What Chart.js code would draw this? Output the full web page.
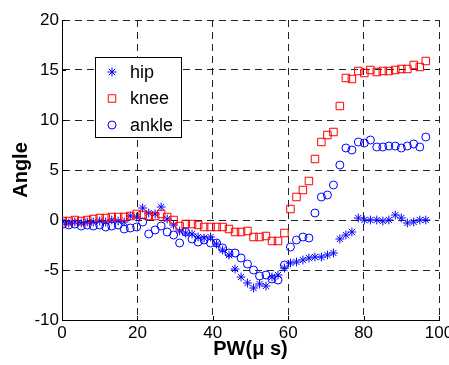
<!DOCTYPE html>
<html>
<head>
<meta charset="utf-8">
<script src="https://cdn.jsdelivr.net/npm/chart.js@4.4.1/dist/chart.umd.min.js"></script>
<style>
  html, body { margin: 0; padding: 0; background: #fff; }
  #wrap { width: 449px; height: 365px; }
</style>
</head>
<body>
<div id="wrap"><canvas id="angleChart" width="449" height="365"></canvas></div>
<script>
// pulse width (us) for each recorded step
const pw = [0.2, 1.8, 3.4, 5.1, 6.7, 8.3, 10.0, 11.6, 13.2, 14.9,
            16.5, 18.1, 19.8, 21.4, 23.0, 24.7, 26.3, 27.9, 29.6, 31.2,
            32.8, 34.5, 36.1, 37.7, 39.4, 41.0, 42.6, 44.3, 45.9, 47.5,
            49.2, 50.8, 52.4, 54.1, 55.7, 57.3, 59.0, 60.6, 62.2, 63.9,
            65.5, 67.1, 68.8, 70.4, 72.0, 73.7, 75.3, 76.9, 78.6, 80.2,
            81.8, 83.5, 85.1, 86.7, 88.4, 90.0, 91.6, 93.3, 94.9, 96.5];

// joint angles (deg)
const hip = [-0.2, -0.3, -0.2, -0.3, -0.2, -0.2, -0.1, -0.2, 0.0, -0.1,
             -0.2, 0.4, 0.3, 1.2, 0.7, 0.6, 1.3, 0.1, -0.5, -1.1,
             -1.3, -1.4, -1.7, -1.8, -1.7, -2.4, -3.0, -3.5, -4.9, -5.7,
             -6.3, -6.8, -6.4, -6.6, -5.7, -5.5, -4.8, -4.3, -4.2, -4.0,
             -3.8, -3.7, -3.7, -3.5, -3.3, -1.9, -1.5, -1.2, 0.2, 0.0,
             0.0, 0.0, -0.1, 0.0, 0.5, 0.2, -0.3, -0.2, 0.0, 0.0];
const knee = [-0.1, -0.1, 0.0, -0.1, 0.0, 0.1, 0.2, 0.2, 0.3, 0.3,
              0.3, 0.4, 0.6, 0.5, 0.4, 0.4, 0.6, 0.3, 0.0, -0.6,
              -0.4, -0.4, -0.5, -0.7, -0.7, -0.7, -0.7, -0.9, -1.2, -1.2,
              -1.1, -1.7, -1.7, -1.6, -2.1, -2.1, -1.3, 1.1, 2.3, 3.0,
              3.9, 6.1, 7.8, 8.5, 8.8, 11.4, 14.2, 14.1, 14.9, 14.7,
              15.0, 14.8, 14.9, 14.9, 15.0, 15.1, 15.1, 15.5, 15.3, 15.9];
const ankle = [-0.4, -0.5, -0.4, -0.6, -0.5, -0.6, -0.5, -0.7, -0.6, -0.5,
               -0.9, -0.8, -0.7, -0.2, -1.4, -1.0, -0.6, -1.2, -1.5, -2.3,
               -1.2, -1.9, -2.2, -2.0, -2.3, -2.3, -2.8, -3.3, -3.3, -3.8,
               -4.4, -5.0, -5.6, -5.5, -5.9, -6.0, -4.5, -2.7, -2.0, -1.7,
               -1.8, 0.7, 2.3, 2.5, 3.5, 5.5, 7.2, 7.0, 7.8, 7.7,
               8.0, 7.3, 7.3, 7.4, 7.4, 7.2, 7.4, 7.6, 7.3, 8.3];

const xTicks = [0, 20, 40, 60, 80, 100];
const yTicks = [-10, -5, 0, 5, 10, 15, 20];

const FONT = "'Liberation Sans', Arial, Helvetica, sans-serif";

function toPoints(ys) {
    return pw.map((x, i) => ({ x: x, y: ys[i] }));
}

// small inward tick marks on the left and bottom axes
const innerTicks = {
    id: 'innerTicks',
    afterDraw(chart) {
        const { ctx, chartArea, scales } = chart;
        ctx.save();
        ctx.strokeStyle = '#000';
        ctx.lineWidth = 1;
        ctx.beginPath();
        xTicks.forEach(v => {
            const px = Math.round(scales.x.getPixelForValue(v)) + 0.5;
            ctx.moveTo(px, chartArea.bottom);
            ctx.lineTo(px, chartArea.bottom - 4);
        });
        yTicks.forEach(v => {
            const py = Math.round(scales.y.getPixelForValue(v)) + 0.5;
            ctx.moveTo(chartArea.left, py);
            ctx.lineTo(chartArea.left + 4, py);
        });
        ctx.stroke();
        ctx.restore();
    }
};

// boxed legend sitting inside the plot
const boxLegend = {
    id: 'boxLegend',
    afterDraw(chart) {
        const ctx = chart.ctx;
        const left = 95, top = 57, w = 86, h = 80;
        ctx.save();
        ctx.fillStyle = '#fff';
        ctx.fillRect(left, top, w, h);
        ctx.strokeStyle = '#000';
        ctx.lineWidth = 1;
        ctx.strokeRect(left + 0.5, top + 0.5, w, h);
        ctx.font = '18px ' + FONT;
        ctx.textBaseline = 'middle';
        const order = [2, 1, 0];
        order.forEach((di, row) => {
            const ds = chart.data.datasets[di];
            const cy = top + 15 + row * 26.5;
            ctx.strokeStyle = ds.borderColor;
            ctx.fillStyle = 'rgba(0,0,0,0)';
            ctx.lineWidth = 1;
            Chart.helpers.drawPoint(ctx, {
                pointStyle: ds.pointStyle,
                radius: ds.pointRadius,
                rotation: 0,
                borderWidth: 1
            }, 112, cy);
            ctx.fillStyle = '#000';
            ctx.fillText(ds.label, 130, cy + 1);
        });
        ctx.restore();
    }
};

const ctx = document.getElementById('angleChart').getContext('2d');
const chart = new Chart(ctx, {
    type: 'scatter',
    data: {
        datasets: [
            {
                label: 'ankle',
                data: toPoints(ankle),
                pointStyle: 'circle',
                pointRadius: 4,
                borderColor: '#0000ff',
                backgroundColor: 'rgba(0,0,0,0)',
                borderWidth: 1
            },
            {
                label: 'knee',
                data: toPoints(knee),
                pointStyle: 'rect',
                pointRadius: 5.3,
                borderColor: '#ff0000',
                backgroundColor: 'rgba(0,0,0,0)',
                borderWidth: 1
            },
            {
                label: 'hip',
                data: toPoints(hip),
                pointStyle: 'star',
                pointRadius: 4.4,
                borderColor: '#0000ff',
                backgroundColor: 'rgba(0,0,0,0)',
                borderWidth: 1
            }
        ]
    },
    options: {
        responsive: false,
        animation: false,
        events: [],
        layout: {
            padding: { top: 20, right: 10, left: 0, bottom: 0 }
        },
        scales: {
            x: {
                type: 'linear',
                min: 0,
                max: 100,
                afterBuildTicks: scale => {
                    scale.ticks = xTicks.map(v => ({ value: v }));
                },
                afterFit: scale => {
                    scale.height = 45;
                    scale.paddingLeft = 0;
                    scale.paddingRight = 0;
                },
                grid: {
                    color: '#222',
                    lineWidth: 1,
                    drawTicks: false
                },
                border: {
                    display: true,
                    color: '#000',
                    width: 1,
                    dash: [7, 5]
                },
                ticks: {
                    color: '#000',
                    padding: 3,
                    maxRotation: 0,
                    font: { family: FONT, size: 17 }
                },
                title: {
                    display: true,
                    text: 'PW(\u03bc s)',
                    color: '#000',
                    padding: { top: 0, bottom: 4 },
                    font: { family: FONT, size: 20, weight: 'bold' }
                }
            },
            y: {
                type: 'linear',
                min: -10,
                max: 20,
                afterBuildTicks: scale => {
                    scale.ticks = yTicks.map(v => ({ value: v }));
                },
                afterFit: scale => {
                    scale.width = 62;
                    scale.paddingTop = 0;
                    scale.paddingBottom = 0;
                },
                grid: {
                    color: '#222',
                    lineWidth: 1,
                    drawTicks: false
                },
                border: {
                    display: true,
                    color: '#000',
                    width: 1,
                    dash: [7, 5]
                },
                ticks: {
                    color: '#000',
                    padding: 3,
                    font: { family: FONT, size: 17 }
                },
                title: {
                    display: true,
                    text: 'Angle',
                    color: '#000',
                    padding: { top: 9, bottom: 0 },
                    font: { family: FONT, size: 20, weight: 'bold' }
                }
            }
        },
        plugins: {
            legend: { display: false },
            tooltip: { enabled: false }
        }
    },
    plugins: [innerTicks, boxLegend]
});
</script>
</body>
</html>
